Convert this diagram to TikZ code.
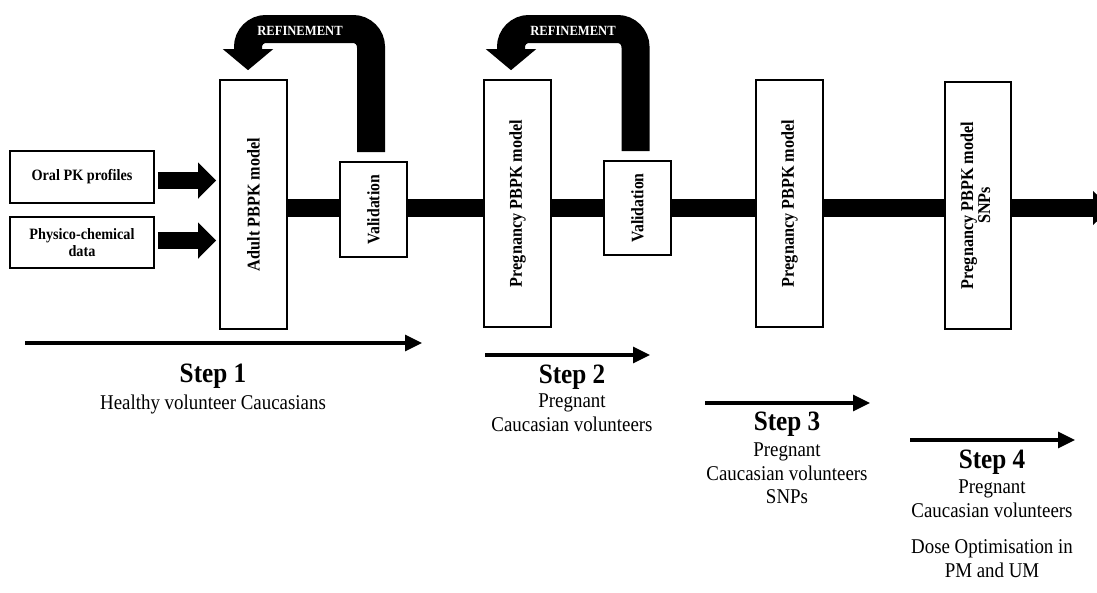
\documentclass[tikz,border=0pt]{standalone}
\usepackage{fontspec}
\setmainfont{Liberation Serif}[FakeStretch=0.9]
\usetikzlibrary{arrows.meta}
\begin{document}
\begin{tikzpicture}[x=1pt,y=-1pt,
  box/.style={draw=black, line width=1.6pt, fill=white, inner sep=0pt,
    font=\bfseries\fontsize{18}{17}\selectfont},
  inbox/.style={box, minimum width=144pt, align=center,
    font=\bfseries\fontsize{15.8}{17}\selectfont},
  modelbox/.style={box, minimum width=67pt, minimum height=248pt},
  valbox/.style={box, minimum width=67pt, minimum height=95pt,
    font=\bfseries\fontsize{17.5}{17}\selectfont},
  bar/.style={line width=18pt, black},
  feed/.style={line width=17pt, -{Triangle[width=35pt,length=18pt]},
    shorten <=3pt, shorten >=3pt},
  refine/.style={line width=28pt, rounded corners=18pt,
    -{Triangle[width=49pt,length=21pt]}},
  reftext/.style={text=white, inner sep=0pt, font=\bfseries\fontsize{14}{14}\selectfont},
  steparrow/.style={line width=3.2pt, -{Triangle[width=16pt,length=17pt]}},
  steptitle/.style={anchor=base, inner sep=0pt, font=\bfseries\fontsize{28}{30}\selectfont},
  stepline/.style={anchor=base, inner sep=0pt, font=\fontsize{21}{24}\selectfont},
]
\useasboundingbox (0,0) rectangle (1097,592);
\clip (0,0) rectangle (1097,592);

% input data boxes
\node[inbox, minimum height=52pt] (oral) at (82,177) {Oral PK profiles};
\node[inbox, minimum height=51pt] (phys) at (82,242.5) {Physico-chemical\\data};

% model and validation boxes
\node[modelbox, minimum height=249pt] (adult) at (253.5,204.5) {\rotatebox{90}{Adult PBPK model}};
\node[valbox] (val1) at (373.5,209.5) {\rotatebox{90}{Validation}};
\node[modelbox, minimum height=247pt] (preg2) at (517.5,203.5) {\rotatebox{90}{Pregnancy PBPK model}};
\node[valbox, minimum height=94pt] (val2) at (637.5,208) {\rotatebox{90}{Validation}};
\node[modelbox, minimum height=247pt] (preg3) at (789.5,203.5) {\rotatebox{90}{Pregnancy PBPK model}};
\node[modelbox, minimum width=66pt, minimum height=247pt] (preg4) at (978,205.5)
  {\rotatebox{90}{\begin{tabular}{@{}c@{}}Pregnancy PBPK model\\SNPs\end{tabular}}};

% main process bar
\coordinate (barline) at (0,208);
\coordinate (barend) at (1111,208);
\draw[bar] (adult.east |- barline) -- (val1.west |- barline);
\draw[bar] (val1.east |- barline) -- (preg2.west |- barline);
\draw[bar] (preg2.east |- barline) -- (val2.west |- barline);
\draw[bar] (val2.east |- barline) -- (preg3.west |- barline);
\draw[bar] (preg3.east |- barline) -- (preg4.west |- barline);
\draw[bar, -{Triangle[width=33pt,length=18pt]}] (preg4.east |- barline) -- (barend);

% inputs feeding the adult model
\draw[feed] ([yshift=-3.5pt]oral.east) -- ([yshift=-3.5pt]oral.east -| adult.west);
\draw[feed] ([yshift=2pt]phys.east) -- ([yshift=2pt]phys.east -| adult.west);

% refinement loops
\coordinate (top) at (0,29);
\coordinate (r1s) at ([xshift=-2.5pt,yshift=9pt]val1.north);
\coordinate (r1e) at ([xshift=-5.5pt,yshift=9pt]adult.north);
\draw[refine] (r1s) -- (r1s |- top) -- (r1e |- top) -- (r1e);
\node[reftext] (ref1) at (300,31) {REFINEMENT};

\coordinate (r2s) at ([xshift=-2pt,yshift=9pt]val2.north);
\coordinate (r2e) at ([xshift=-6.5pt,yshift=9pt]preg2.north);
\draw[refine] (r2s) -- (r2s |- top) -- (r2e |- top) -- (r2e);
\node[reftext] (ref2) at (573,31) {REFINEMENT};

% step arrows
\coordinate (s1a) at (25,343);  \coordinate (s1b) at (422,343);
\coordinate (s2a) at (485,355); \coordinate (s2b) at (650,355);
\coordinate (s3a) at (705,403); \coordinate (s3b) at (870,403);
\coordinate (s4a) at (910,440); \coordinate (s4b) at (1075,440);
\draw[steparrow] (s1a) -- (s1b);
\draw[steparrow] (s2a) -- (s2b);
\draw[steparrow] (s3a) -- (s3b);
\draw[steparrow] (s4a) -- (s4b);

% step descriptions
\node[steptitle] (t1) at (213,382) {Step 1};
\node[stepline] (t1a) at (213,409) {Healthy volunteer Caucasians};

\node[steptitle] (t2) at (572,383) {Step 2};
\node[stepline] (t2a) at (572,407) {Pregnant};
\node[stepline] (t2b) at (572,431) {Caucasian volunteers};

\node[steptitle] (t3) at (787,430) {Step 3};
\node[stepline] (t3a) at (787,456) {Pregnant};
\node[stepline] (t3b) at (787,480) {Caucasian volunteers};
\node[stepline] (t3c) at (787,503) {SNPs};

\node[steptitle] (t4) at (992,468) {Step 4};
\node[stepline] (t4a) at (992,493) {Pregnant};
\node[stepline] (t4b) at (992,517) {Caucasian volunteers};
\node[stepline] (t4c) at (992,553) {Dose Optimisation in};
\node[stepline] (t4d) at (992,577) {PM and UM};
\end{tikzpicture}
\end{document}
